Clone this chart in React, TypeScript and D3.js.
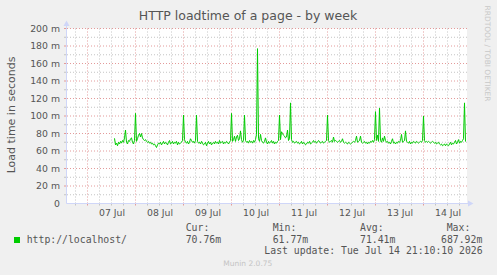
import React, { useEffect } from 'react';
import * as d3 from 'd3';

// ---- data ----
const title = 'HTTP loadtime of a page - by week';
const yAxisTitle = 'Load time in seconds';
const dayLabels = ['07 Jul', '08 Jul', '09 Jul', '10 Jul', '11 Jul', '12 Jul', '13 Jul', '14 Jul'];
const yTickValues = [0, 20, 40, 60, 80, 100, 120, 140, 160, 180, 200];
const seriesName = 'http://localhost/';
const legendHeaders = ['Cur:', 'Min:', 'Avg:', 'Max:'];
const legendValues = ['70.76m', '61.77m', '71.41m', '687.92m'];
const lastUpdate = 'Last update: Tue Jul 14 21:10:10 2026';
const footer = 'Munin 2.0.75';
const watermark = 'RRDTOOL / TOBI OETIKER';

// load time in milliseconds, one sample per 30 minutes starting 2026-07-07 13:30 UTC
const loadTimes = [
  74.5, 67, 69, 66, 70, 68, 71, 69, 72, 70, 75, 84, 70, 68, 72, 71, 74, 75, 70, 68,
  72, 103, 71, 74, 78, 80, 76, 80, 75, 73, 72, 73, 71, 70, 71, 69, 70, 68, 69, 67,
  68, 66, 64, 67, 69, 68, 70, 67, 69, 71, 68, 70, 69, 67, 70, 72, 68, 69, 71, 68,
  70, 69, 71, 67, 70, 68, 69, 70, 72, 101, 73, 70, 69, 71, 68, 70, 74, 72, 70, 71,
  69, 72, 101, 71, 69, 70, 68, 71, 69, 67, 68, 70, 66, 69, 71, 68, 70, 67, 69, 70,
  68, 71, 69, 70, 68, 72, 69, 70, 71, 68, 70, 69, 71, 70, 68, 70, 72, 103, 71, 73,
  77, 71, 76, 78, 72, 74, 83, 73, 70, 72, 101, 72, 70, 71, 69, 72, 70, 71, 69, 72,
  70, 73, 79, 177, 74, 71, 79, 72, 70, 69, 71, 75, 70, 68, 71, 69, 70, 72, 69, 71,
  68, 70, 69, 71, 72, 101, 73, 82, 80, 78, 77, 75, 76, 84, 72, 74, 115, 73, 70, 71,
  69, 70, 71, 69, 70, 68, 69, 71, 68, 70, 69, 67, 68, 70, 69, 71, 68, 69, 70, 72,
  70, 71, 69, 70, 72, 71, 69, 70, 71, 69, 70, 71, 72, 101, 72, 70, 71, 72, 70, 76,
  71, 72, 71, 70, 71, 72, 70, 71, 74, 70, 69, 70, 69, 68, 70, 69, 68, 69, 70, 71,
  70, 72, 77, 70, 71, 72, 77, 70, 69, 70, 71, 69, 70, 68, 70, 69, 71, 70, 72, 70,
  73, 105, 72, 78, 71, 109, 72, 70, 75, 71, 77, 72, 70, 71, 69, 70, 68, 71, 74, 69,
  70, 68, 70, 69, 71, 70, 72, 79, 70, 71, 72, 83, 71, 70, 69, 71, 68, 70, 69, 71,
  70, 69, 71, 70, 69, 70, 71, 70, 72, 100, 72, 70, 71, 70, 71, 70, 69, 70, 71, 70,
  69, 70, 68, 69, 70, 68, 67, 68, 66, 67, 68, 66, 68, 67, 66, 68, 70, 67, 69, 68,
  70, 72, 68, 70, 73, 69, 71, 70, 72, 74, 115, 70.76,
];

const START = Date.UTC(2026, 6, 7, 13, 30);
const STEP = 30 * 60 * 1000;

const W = 497;
const H = 275;

const C_BG = '#f0f0f0';
const C_FONT = '#555555';
const C_AXIS = '#cfd6f8';
const C_GRID = '#c4c4c4';
const C_MGRID = '#e39a9a';
const C_LINE = '#00cc00';
const SANS = "'DejaVu Sans', sans-serif";
const MONO = "'DejaVu Sans Mono', monospace";

export default function App() {
  useEffect(() => {
    document.body.style.margin = '0';
    document.body.style.background = C_BG;
  }, []);

  const x = d3
    .scaleUtc()
    .domain([new Date(Date.UTC(2026, 6, 6, 13, 45)), new Date(Date.UTC(2026, 6, 14, 21, 45))])
    .range([67, 467]);
  const y = d3.scaleLinear().domain([0, 200]).range([203.5, 28.5]);

  const [x0, x1] = x.range();
  const yBottom = y(0);
  const yTop = y(200);

  const sixHours = d3.utcHour.every(6)!.range(x.domain()[0], x.domain()[1]);
  const minorV = sixHours.filter((d) => d.getUTCHours() !== 0);
  const majorV = sixHours.filter((d) => d.getUTCHours() === 0);

  const hGrid = d3.range(10, 201, 10);

  const pts = loadTimes.map((v, i) => ({ t: new Date(START + i * STEP), v }));
  const line = d3
    .line<{ t: Date; v: number }>()
    .x((d) => x(d.t))
    .y((d) => y(d.v));

  const noonDates = dayLabels.map((_, i) => new Date(Date.UTC(2026, 6, 7 + i, 12)));

  const legendX = [185.7, 272.7, 360, 446.7];
  const valueX = [185.7, 272.7, 360, 441];

  return (
    <svg
      width={W}
      height={H}
      viewBox={`0 0 ${W} ${H}`}
      style={{ position: 'absolute', left: 0, top: 0, display: 'block' }}
    >
      <rect x={0} y={0} width={W} height={H} fill={C_BG} />
      <rect x={x0} y={yTop} width={x1 - x0} height={yBottom - yTop} fill="#ffffff" />

      {/* minor horizontal grid */}
      {hGrid
        .filter((v) => v % 20 !== 0)
        .map((v) => (
          <g key={'hm' + v}>
            <line x1={x0} x2={x1} y1={y(v)} y2={y(v)} stroke={C_GRID} strokeDasharray="1,2" />
            <line x1={x0 - 3} x2={x0} y1={y(v)} y2={y(v)} stroke={C_GRID} />
          </g>
        ))}
      {/* minor vertical grid */}
      {minorV.map((d, i) => (
        <g key={'vm' + i}>
          <line x1={x(d)} x2={x(d)} y1={yTop} y2={yBottom} stroke={C_GRID} strokeDasharray="1,2" />
          <line x1={x(d)} x2={x(d)} y1={yBottom} y2={yBottom + 2} stroke={C_GRID} />
        </g>
      ))}
      {/* major horizontal grid */}
      {hGrid
        .filter((v) => v % 20 === 0)
        .map((v) => (
          <g key={'hM' + v}>
            <line x1={x0} x2={x1} y1={y(v)} y2={y(v)} stroke={C_MGRID} strokeDasharray="1,2" />
            <line x1={x0 - 3} x2={x0} y1={y(v)} y2={y(v)} stroke={C_MGRID} />
          </g>
        ))}
      {/* major vertical grid */}
      {majorV.map((d, i) => (
        <g key={'vM' + i}>
          <line x1={x(d)} x2={x(d)} y1={yTop} y2={yBottom} stroke={C_MGRID} strokeDasharray="1,2" />
          <line x1={x(d)} x2={x(d)} y1={yBottom} y2={yBottom + 2} stroke={C_MGRID} />
        </g>
      ))}

      {/* axes */}
      <line x1={x0 - 0.5} x2={x0 - 0.5} y1={yBottom} y2={24} stroke={C_AXIS} />
      <line x1={x0 - 0.5} x2={470} y1={yBottom} y2={yBottom} stroke={C_AXIS} />
      <path d={`M${x0 - 0.5},20.5 L${x0 - 3.5},26 L${x0 + 2.5},26 Z`} fill={C_AXIS} />
      <path d={`M473.5,${yBottom} L468,${yBottom - 3} L468,${yBottom + 3} Z`} fill={C_AXIS} />

      {/* data line */}
      <path d={line(pts) || ''} fill="none" stroke={C_LINE} strokeWidth={1} strokeLinejoin="round" />

      {/* y tick labels */}
      {yTickValues.map((v) => (
        <text
          key={'yl' + v}
          x={60}
          y={y(v) + 3.3}
          textAnchor="end"
          fontFamily={SANS}
          fontSize={9.33}
          fill={C_FONT}
        >
          {v === 0 ? '0' : `${v} m`}
        </text>
      ))}

      {/* x tick labels */}
      {dayLabels.map((lab, i) => (
        <text
          key={'xl' + i}
          x={x(noonDates[i]) + 0.5}
          y={216.3}
          textAnchor="middle"
          fontFamily={SANS}
          fontSize={9.33}
          fill={C_FONT}
        >
          {lab}
        </text>
      ))}

      {/* title */}
      <text x={248} y={19.5} textAnchor="middle" fontFamily={SANS} fontSize={12.5} fill={C_FONT}>
        {title}
      </text>

      {/* y axis title */}
      <text
        transform="translate(15,115) rotate(-90)"
        textAnchor="middle"
        fontFamily={SANS}
        fontSize={11}
        fill={C_FONT}
      >
        {yAxisTitle}
      </text>

      {/* watermark */}
      <text
        transform="translate(485,53.5) rotate(90)"
        textAnchor="middle"
        fontFamily={SANS}
        fontSize={7.45}
        fill="#c8c8c8"
      >
        {watermark}
      </text>

      {/* legend */}
      <rect x={14} y={237} width={6} height={6} fill={C_LINE} />
      <text x={26.7} y={242.6} fontFamily={MONO} fontSize={9.8} fill={C_FONT}>
        {seriesName}
      </text>
      {legendHeaders.map((h, i) => (
        <text key={'lh' + i} x={legendX[i]} y={230.7} fontFamily={MONO} fontSize={9.8} fill={C_FONT}>
          {h}
        </text>
      ))}
      {legendValues.map((v, i) => (
        <text key={'lv' + i} x={valueX[i]} y={242.6} fontFamily={MONO} fontSize={9.8} fill={C_FONT}>
          {v}
        </text>
      ))}
      <text x={482.6} y={254.4} textAnchor="end" fontFamily={MONO} fontSize={9.8} fill={C_FONT}>
        {lastUpdate}
      </text>
      <text x={247.8} y={266} textAnchor="middle" fontFamily={SANS} fontSize={7.5} fill="#c4c4c4">
        {footer}
      </text>
    </svg>
  );
}
